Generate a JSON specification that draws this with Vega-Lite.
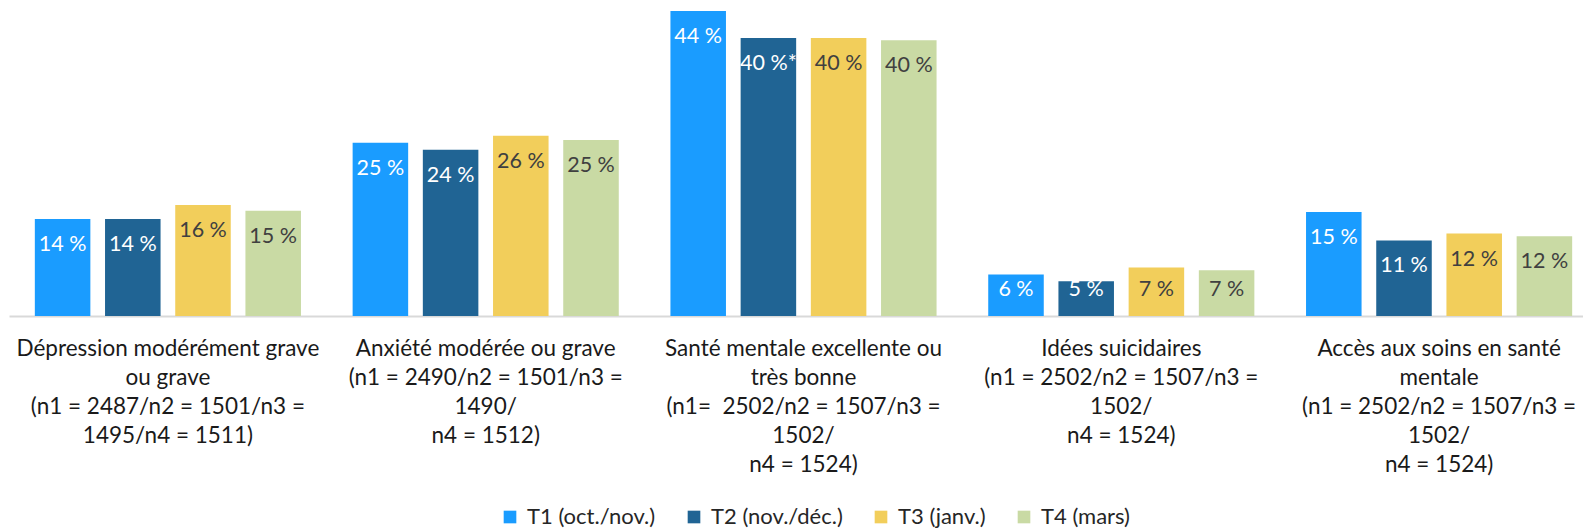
{
  "$schema": "https://vega.github.io/schema/vega-lite/v6.json",
  "width": 1574,
  "height": 316,
  "autosize": {"type": "none"},
  "padding": {"left": 9, "top": 0, "right": 0, "bottom": 212},
  "config": {"view": {"stroke": null}, "font": "Lato"},
  "data": {
    "values": [
      {"cat": "Dépression modérément grave|ou grave|(n1 = 2487/n2 = 1501/n3 =|1495/n4 = 1511)", "serie": "T1 (oct./nov.)", "value": 14.0, "label": "14 %"},
      {"cat": "Dépression modérément grave|ou grave|(n1 = 2487/n2 = 1501/n3 =|1495/n4 = 1511)", "serie": "T2 (nov./déc.)", "value": 14.0, "label": "14 %"},
      {"cat": "Dépression modérément grave|ou grave|(n1 = 2487/n2 = 1501/n3 =|1495/n4 = 1511)", "serie": "T3 (janv.)", "value": 16.0, "label": "16 %"},
      {"cat": "Dépression modérément grave|ou grave|(n1 = 2487/n2 = 1501/n3 =|1495/n4 = 1511)", "serie": "T4 (mars)", "value": 15.2, "label": "15 %"},
      {"cat": "Anxiété modérée ou grave|(n1 = 2490/n2 = 1501/n3 =|1490/|n4 = 1512)", "serie": "T1 (oct./nov.)", "value": 25.0, "label": "25 %"},
      {"cat": "Anxiété modérée ou grave|(n1 = 2490/n2 = 1501/n3 =|1490/|n4 = 1512)", "serie": "T2 (nov./déc.)", "value": 24.0, "label": "24 %"},
      {"cat": "Anxiété modérée ou grave|(n1 = 2490/n2 = 1501/n3 =|1490/|n4 = 1512)", "serie": "T3 (janv.)", "value": 26.0, "label": "26 %"},
      {"cat": "Anxiété modérée ou grave|(n1 = 2490/n2 = 1501/n3 =|1490/|n4 = 1512)", "serie": "T4 (mars)", "value": 25.4, "label": "25 %"},
      {"cat": "Santé mentale excellente ou|très bonne|(n1= \u00a02502/n2 = 1507/n3 =|1502/|n4 = 1524)", "serie": "T1 (oct./nov.)", "value": 44.0, "label": "44 %"},
      {"cat": "Santé mentale excellente ou|très bonne|(n1= \u00a02502/n2 = 1507/n3 =|1502/|n4 = 1524)", "serie": "T2 (nov./déc.)", "value": 40.1, "label": "40 %*"},
      {"cat": "Santé mentale excellente ou|très bonne|(n1= \u00a02502/n2 = 1507/n3 =|1502/|n4 = 1524)", "serie": "T3 (janv.)", "value": 40.1, "label": "40 %"},
      {"cat": "Santé mentale excellente ou|très bonne|(n1= \u00a02502/n2 = 1507/n3 =|1502/|n4 = 1524)", "serie": "T4 (mars)", "value": 39.8, "label": "40 %"},
      {"cat": "Idées suicidaires|(n1 = 2502/n2 = 1507/n3 =|1502/|n4 = 1524)", "serie": "T1 (oct./nov.)", "value": 6.0, "label": "6 %"},
      {"cat": "Idées suicidaires|(n1 = 2502/n2 = 1507/n3 =|1502/|n4 = 1524)", "serie": "T2 (nov./déc.)", "value": 5.0, "label": "5 %"},
      {"cat": "Idées suicidaires|(n1 = 2502/n2 = 1507/n3 =|1502/|n4 = 1524)", "serie": "T3 (janv.)", "value": 7.0, "label": "7 %"},
      {"cat": "Idées suicidaires|(n1 = 2502/n2 = 1507/n3 =|1502/|n4 = 1524)", "serie": "T4 (mars)", "value": 6.6, "label": "7 %"},
      {"cat": "Accès aux soins en santé|mentale|(n1 = 2502/n2 = 1507/n3 =|1502/|n4 = 1524)", "serie": "T1 (oct./nov.)", "value": 15.0, "label": "15 %"},
      {"cat": "Accès aux soins en santé|mentale|(n1 = 2502/n2 = 1507/n3 =|1502/|n4 = 1524)", "serie": "T2 (nov./déc.)", "value": 10.9, "label": "11 %"},
      {"cat": "Accès aux soins en santé|mentale|(n1 = 2502/n2 = 1507/n3 =|1502/|n4 = 1524)", "serie": "T3 (janv.)", "value": 11.9, "label": "12 %"},
      {"cat": "Accès aux soins en santé|mentale|(n1 = 2502/n2 = 1507/n3 =|1502/|n4 = 1524)", "serie": "T4 (mars)", "value": 11.5, "label": "12 %"}
    ]
  },
  "encoding": {
    "x": {
      "field": "cat",
      "type": "nominal",
      "sort": null,
      "scale": {"range": [0, 1589], "paddingInner": 0, "paddingOuter": 0},
      "axis": {
        "title": null,
        "labelAngle": 0,
        "ticks": false,
        "domainColor": "#d9d9d9",
        "domainWidth": 2,
        "labelFontSize": 22.5,
        "labelColor": "#1a1a1a",
        "labelLineHeight": 29.2,
        "labelPadding": 21,
        "labelBaseline": "top",
        "labelLimit": 0,
        "labelOverlap": false,
        "labelExpr": "split(datum.label, '|')"
      }
    },
    "xOffset": {
      "field": "serie",
      "type": "nominal",
      "sort": null,
      "scale": {"paddingInner": 0.209, "paddingOuter": 0.368}
    },
    "y": {
      "field": "value",
      "type": "quantitative",
      "scale": {"domain": [0, 45.6], "nice": false},
      "axis": null
    }
  },
  "layer": [
    {
      "mark": {"type": "bar"},
      "encoding": {
        "color": {
          "field": "serie",
          "type": "nominal",
          "sort": null,
          "scale": {
            "domain": ["T1 (oct./nov.)", "T2 (nov./déc.)", "T3 (janv.)", "T4 (mars)"],
            "range": ["#1a9cff", "#206494", "#f2ce5b", "#c9daa4"]
          },
          "legend": {
            "orient": "none",
            "legendX": 490,
            "legendY": 506,
            "direction": "horizontal",
            "title": null,
            "labelFontSize": 22,
            "labelColor": "#262626",
            "symbolType": "square",
            "symbolSize": 160,
            "symbolStrokeWidth": 0,
            "columnPadding": 27,
            "labelOffset": 6
          }
        }
      }
    },
    {
      "transform": [{"calculate": "max(datum.value, 7.5)", "as": "ly"}],
      "mark": {"type": "text", "dy": 26, "fontSize": 21.5, "baseline": "middle", "align": "center"},
      "encoding": {
        "y": {"field": "ly", "type": "quantitative"},
        "text": {"field": "label"},
        "color": {
          "condition": {"test": "datum.serie == 'T1 (oct./nov.)' || datum.serie == 'T2 (nov./déc.)'", "value": "#ffffff"},
          "value": "#404040"
        }
      }
    }
  ]
}
